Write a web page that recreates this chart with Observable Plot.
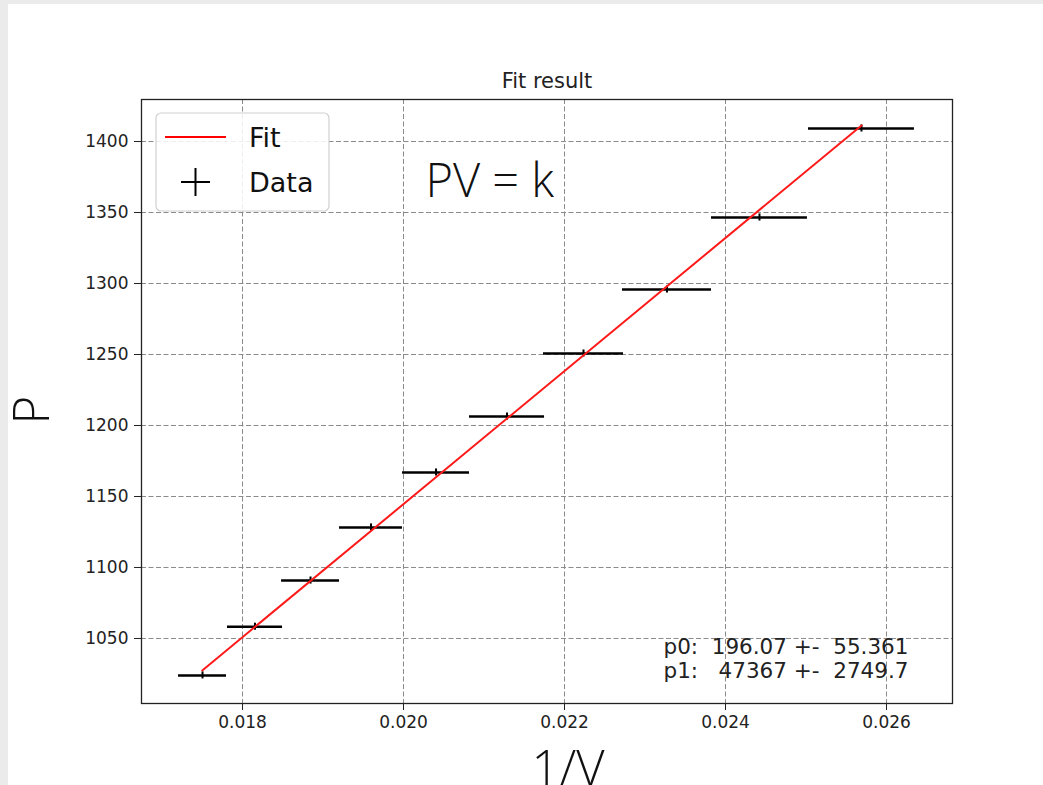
<!DOCTYPE html>
<html>
<head>
<meta charset="utf-8">
<script src="https://cdn.jsdelivr.net/npm/d3@7"></script>
<script src="https://cdn.jsdelivr.net/npm/@observablehq/plot@0.6"></script>
<style>
  html, body { margin: 0; padding: 0; background: #fff; }
  #wrap { position: relative; width: 1043px; height: 785px; overflow: hidden; }
  #stripTop { position: absolute; left: 0; top: 0; width: 1043px; height: 4px; background: #ebebeb; }
  #stripLeft { position: absolute; left: 0; top: 0; width: 8px; height: 785px; background: #ebebeb; }
  svg text { white-space: pre; }
</style>
</head>
<body>
<div id="wrap"><div id="chart"></div><div id="stripTop"></div><div id="stripLeft"></div></div>
<script>
// Data
const invV   = [0.017503, 0.018155, 0.018845, 0.019596, 0.020404, 0.021286, 0.022236, 0.023273, 0.024422, 0.025689];
const invVerr = [0.000298, 0.000342, 0.000360, 0.000391, 0.000416, 0.000466, 0.000497, 0.000553, 0.000596, 0.000658];
const P      = [1024.0, 1058.3, 1090.8, 1128.2, 1166.9, 1206.3, 1250.7, 1295.8, 1346.5, 1409.2];
const Perr   = [2.5, 2.5, 2.5, 2.5, 2.5, 2.5, 2.5, 2.5, 2.5, 2.5];
const fitX   = [0.01750, 0.02569];
const fitP   = [1027.5, 1411.3];
const xTicks = [0.018, 0.020, 0.022, 0.024, 0.026];
const yTicks = [1050, 1100, 1150, 1200, 1250, 1300, 1350, 1400];
const titleText = "Fit result";
const xLabel = "1/V";
const yLabel = "P";
const annot = "PV = k";
const statsLines = ["p0:  196.07 +-  55.361", "p1:   47367 +-  2749.7"];
const legendItems = ["Fit", "Data"];

const pts = invV.map((x, i) => ({x, xe: invVerr[i], y: P[i], ye: Perr[i]}));
const fit = fitX.map((x, i) => ({x, y: fitP[i]}));

const font = "DejaVu Sans";
const thin = "'Open Sans', 'Noto Sans', sans-serif";

function legendMark(index, scales, values, dims) {
  const g = d3.create("svg:g");
  const x0 = dims.marginLeft + 15, y0 = dims.marginTop + 14;
  g.append("rect").attr("x", x0).attr("y", y0).attr("width", 173).attr("height", 98)
    .attr("rx", 5).attr("fill", "white").attr("fill-opacity", 0.85)
    .attr("stroke", "#d0d0d0").attr("stroke-width", 1.2);
  g.append("line").attr("x1", x0 + 9).attr("x2", x0 + 70).attr("y1", y0 + 24).attr("y2", y0 + 24)
    .attr("stroke", "red").attr("stroke-width", 2);
  g.append("line").attr("x1", x0 + 25).attr("x2", x0 + 54).attr("y1", y0 + 69).attr("y2", y0 + 69)
    .attr("stroke", "black").attr("stroke-width", 2);
  g.append("line").attr("x1", x0 + 39.5).attr("x2", x0 + 39.5).attr("y1", y0 + 55).attr("y2", y0 + 83)
    .attr("stroke", "black").attr("stroke-width", 2);
  legendItems.forEach((t, i) => {
    g.append("text").attr("x", x0 + 93).attr("y", y0 + 34 + i * 45)
      .attr("text-anchor", "start")
      .attr("font-family", font).attr("font-size", 27).attr("fill", "#111").text(t);
  });
  return g.node();
}

const chart = Plot.plot({
  width: 1043,
  height: 785,
  marginLeft: 141,
  marginRight: 91,
  marginTop: 99,
  marginBottom: 82,
  style: {fontFamily: font, background: "transparent"},
  x: {domain: [0.016745, 0.02682]},
  y: {domain: [1004.2, 1429.6]},
  marks: [
    Plot.gridX(xTicks, {stroke: "#8a8a8a", strokeOpacity: 1, strokeDasharray: "5,2.5", strokeWidth: 1}),
    Plot.gridY(yTicks, {stroke: "#8a8a8a", strokeOpacity: 1, strokeDasharray: "5,2.5", strokeWidth: 1}),
    Plot.axisX(xTicks, {tickFormat: d3.format(".3f"), tickSize: 7, tickPadding: 5, fontSize: 17, label: null, stroke: "#222", color: "#222"}),
    Plot.axisY(yTicks, {tickFormat: d => String(d), tickSize: 7, tickPadding: 6, fontSize: 17, label: null, stroke: "#222", color: "#222"}),
    Plot.ruleY(pts, {y: "y", x1: d => d.x - d.xe, x2: d => d.x + d.xe, stroke: "black", strokeWidth: 2.5}),
    Plot.ruleX(pts, {x: "x", y1: d => d.y - d.ye, y2: d => d.y + d.ye, stroke: "black", strokeWidth: 2}),
    Plot.line(fit, {x: "x", y: "y", stroke: "#ff1a1a", strokeWidth: 2}),
    Plot.frame({stroke: "#222", strokeWidth: 1.3}),
    Plot.text([titleText], {frameAnchor: "top", lineAnchor: "bottom", dy: -12, fontSize: 21, fill: "#222", textAnchor: "middle"}),
    Plot.text([xLabel], {frameAnchor: "bottom", lineAnchor: "bottom", dx: 21, dy: 82, fontSize: 49, fontFamily: thin, fontWeight: 300, fill: "#111"}),
    Plot.text([yLabel], {frameAnchor: "left", dx: -108, dy: 23, rotate: -90, fontSize: 49, fontFamily: thin, fontWeight: 300, fill: "#111"}),
    Plot.text([annot], {frameAnchor: "top-left", lineAnchor: "bottom", dx: 284, dy: 97, fontSize: 47, fontFamily: thin, fontWeight: 300, fill: "#111", textAnchor: "start"}),
    Plot.text([statsLines[0]], {frameAnchor: "bottom-left", lineAnchor: "bottom", dx: 522, dy: -50, fontSize: 21.5, fill: "#222", textAnchor: "start"}),
    Plot.text([statsLines[1]], {frameAnchor: "bottom-left", lineAnchor: "bottom", dx: 522, dy: -26, fontSize: 21.5, fill: "#222", textAnchor: "start"}),
    legendMark
  ]
});
document.getElementById("chart").appendChild(chart);
</script>
</body>
</html>
